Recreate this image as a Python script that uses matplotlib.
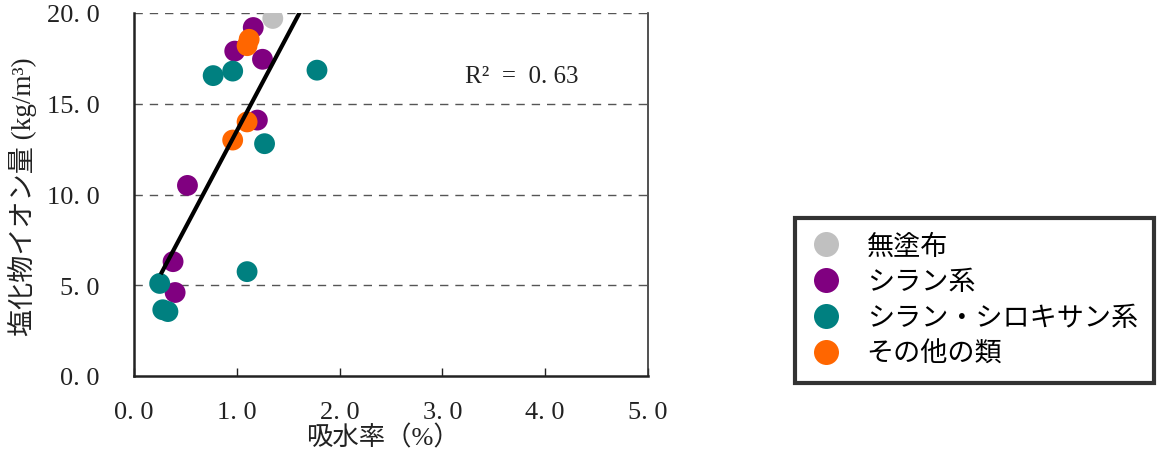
import matplotlib
matplotlib.use("Agg")
import matplotlib.pyplot as plt
from matplotlib.lines import Line2D
import numpy as np

plt.rcParams['font.family'] = ['Liberation Serif', 'Noto Sans CJK JP', 'DejaVu Sans']

# ---- data ----
categories = ['無塗布', 'シラン系', 'シラン・シロキサン系', 'その他の類']
colors = ['#c0c0c0', '#800080', '#008080', '#ff6600']

x_none = [1.35]
y_none = [19.7]

x_silane = [1.16, 0.98, 1.25, 1.20, 0.52, 0.38, 0.40]
y_silane = [19.2, 17.9, 17.45, 14.1, 10.5, 6.3, 4.6]

x_silox = [0.77, 0.96, 1.78, 1.27, 0.25, 0.28, 0.33, 1.10]
y_silox = [16.55, 16.8, 16.85, 12.8, 5.1, 3.65, 3.55, 5.75]

x_other = [1.12, 1.10, 1.10, 0.96]
y_other = [18.55, 18.2, 14.0, 13.0]

fit_slope = 10.67
fit_intercept = 2.83
fit_x = [0.26, 1.70]
r2_text = 'R²  =  0. 63'

xticks = [0, 1, 2, 3, 4, 5]
xticklabels = ['0. 0', '1. 0', '2. 0', '3. 0', '4. 0', '5. 0']
yticks = [0, 5, 10, 15, 20]
yticklabels = ['0. 0', '5. 0', '10. 0', '15. 0', '20. 0']

xlabel = '吸水率（%）'
ylabel = '塩化物イオン量 (kg/m³)'

# ---- figure ----
W, H = 1165, 456
fig = plt.figure(figsize=(W / 100, H / 100), dpi=100)
ax = fig.add_axes([134 / W, 1 - 377 / H, (648 - 134) / W, (377 - 14) / H])

ax.set_xlim(0, 5)
ax.set_ylim(0, 20)

for yv in [5, 10, 15, 20]:
    ax.axhline(yv, color='#555555', lw=1.0, ls=(0, (6, 5)), zorder=1)

series = [(x_none, y_none), (x_silane, y_silane), (x_silox, y_silox), (x_other, y_other)]
for (xs, ys), c in zip(series, colors):
    ax.scatter(xs, ys, s=225, color=c, edgecolors='none', zorder=3)

fx = np.array(fit_x)
ax.plot(fx, fit_slope * fx + fit_intercept, color='black', lw=3.0, zorder=4,
        solid_capstyle='butt')

ax.text(3.77, 16.55, r2_text, fontsize=18, ha='center', va='center', color='#222222')

ax.set_xticks(xticks)
ax.set_xticklabels(xticklabels, fontsize=19)
ax.set_yticks(yticks)
ax.set_yticklabels(yticklabels, fontsize=19)
ax.tick_params(axis='x', direction='in', length=6, width=1, pad=18, colors='#222222')
ax.tick_params(axis='y', direction='in', length=0, pad=25, colors='#222222')
for lab in ax.get_xticklabels() + ax.get_yticklabels():
    lab.set_color('#222222')

ax.spines['top'].set_visible(False)
ax.spines['left'].set_linewidth(1.8)
ax.spines['bottom'].set_linewidth(1.8)
ax.spines['left'].set_color('#222222')
ax.spines['bottom'].set_color('#222222')
ax.spines['right'].set_linewidth(1.2)
ax.spines['right'].set_color('#333333')

fig.text(383 / W, 1 - 438 / H, xlabel, fontsize=19, ha='center', va='center', color='#222222')
fig.text(22 / W, 1 - 197 / H, ylabel, fontsize=19.5, ha='center', va='center',
         rotation=90, color='#222222')

handles = [Line2D([], [], ls='none', marker='o', markersize=18, markerfacecolor=c,
                  markeredgecolor='none') for c in colors]
leg = fig.legend(handles, categories, loc='upper left',
                 bbox_to_anchor=(795 / W, 1 - 219 / H), fontsize=19.5,
                 frameon=True, fancybox=False, edgecolor='black',
                 borderpad=0.6, labelspacing=0.4, handletextpad=0.95,
                 handlelength=1.1, borderaxespad=0)
leg.get_frame().set_linewidth(3)

fig.savefig('out.png', dpi=100)
